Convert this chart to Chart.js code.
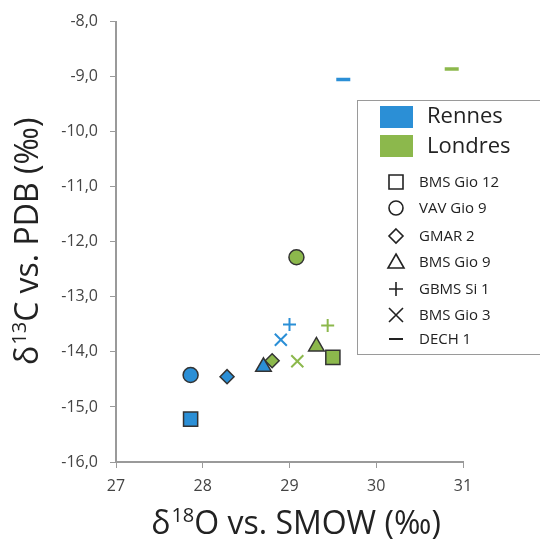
<!DOCTYPE html>
<html>
<head>
<meta charset="utf-8">
<script src="https://cdn.jsdelivr.net/npm/chart.js@4/dist/chart.umd.min.js"></script>
<style>
html,body{margin:0;padding:0;background:#fff;}
#wrap{width:540px;height:540px;}
</style>
</head>
<body>
<div id="wrap"><canvas id="grafico"></canvas></div>
<script>
// echantillons (forme du point)
const echantillons = ["BMS Gio 12", "VAV Gio 9", "GMAR 2", "BMS Gio 9", "GBMS Si 1", "BMS Gio 3", "DECH 1"];
const formes = ["rect", "circle", "rectRot", "triangle", "cross", "crossRot", "line"];
const tailles = [10, 7.5, 7, 9, 6.5, 8.5, 7];

// villes (couleur)
const villes = ["Rennes", "Londres"];
const couleurs = ["#2b8fd6", "#8cb84c"];

// d18O / d13C par echantillon
const rennesO = [27.86, 27.86, 28.28, 28.70, 29.00, 28.90, 29.62];
const rennesC = [-15.22, -14.42, -14.45, -14.27, -13.50, -13.78, -9.05];
const londresO = [29.50, 29.08, 28.80, 29.31, 29.44, 29.09, 30.87];
const londresC = [-14.10, -12.28, -14.16, -13.90, -13.52, -14.17, -8.86];

const ticksX = [27, 28, 29, 30, 31];
const ticksY = [-16, -15, -14, -13, -12, -11, -10, -9, -8];

// titres : [debut, exposant, suite]
const titreX = ["δ", "18", "O vs. SMOW (‰)"];
const titreY = ["δ", "13", "C vs. PDB (‰)"];

const police = "'Open Sans', 'DejaVu Sans', sans-serif";
const gris = "#9a9a9a";

function serie(nom, xs, ys, coul) {
    const ouvert = f => f == "cross" || f == "crossRot" || f == "line";
    return {
        label: nom,
        data: xs.map((x, i) => ({x: x, y: ys[i]})),
        pointStyle: formes,
        pointRadius: tailles,
        pointHoverRadius: tailles,
        backgroundColor: coul,
        pointBackgroundColor: coul,
        pointBorderColor: formes.map(f => ouvert(f) ? coul : "#333333"),
        pointBorderWidth: formes.map(f => f == "line" ? 3.5 : (ouvert(f) ? 2 : 1.5)),
        showLine: false
    };
}

// titre avec exposant, centre en (0,0)
function titreExposant(ctx, parts, taille) {
    const petit = Math.round(taille * 0.62);
    ctx.font = taille + "px " + police;
    const w0 = ctx.measureText(parts[0]).width;
    const w2 = ctx.measureText(parts[2]).width;
    ctx.font = petit + "px " + police;
    const w1 = ctx.measureText(parts[1]).width;
    let x = -(w0 + w1 + w2) / 2;
    ctx.textAlign = "left";
    ctx.textBaseline = "alphabetic";
    ctx.fillStyle = "#222";
    ctx.font = taille + "px " + police;
    ctx.fillText(parts[0], x, taille * 0.36);
    x += w0;
    ctx.font = petit + "px " + police;
    ctx.fillText(parts[1], x + 1, 0);
    x += w1 + 1;
    ctx.font = taille + "px " + police;
    ctx.fillText(parts[2], x, taille * 0.36);
}

const titres = {
    id: "titres",
    afterDraw(chart) {
        const ctx = chart.ctx;
        const a = chart.chartArea;
        ctx.save();
        ctx.translate((a.left + a.right) / 2 + 6, 522);
        titreExposant(ctx, titreX, 32);
        ctx.restore();
        ctx.save();
        ctx.translate(26, (a.top + a.bottom) / 2);
        ctx.rotate(-Math.PI / 2);
        titreExposant(ctx, titreY, 32);
        ctx.restore();
    }
};

// legende dessinee dans le graphique
const legende = {
    id: "legende",
    afterDraw(chart) {
        const ctx = chart.ctx;
        ctx.save();
        ctx.fillStyle = "#fff";
        ctx.fillRect(357, 100, 200, 254);
        ctx.strokeStyle = gris;
        ctx.lineWidth = 1;
        ctx.strokeRect(357.5, 100.5, 200, 254);

        ctx.textBaseline = "middle";
        ctx.textAlign = "left";
        villes.forEach((v, i) => {
            ctx.fillStyle = couleurs[i];
            ctx.fillRect(380, 106 + i * 29, 33, 22);
            ctx.fillStyle = "#222";
            ctx.font = "22px " + police;
            ctx.fillText(v, 427, 117 + i * 30);
        });
        const pasY = [182, 208, 236, 262, 289, 315, 339];
        echantillons.forEach((e, i) => {
            const y = pasY[i];
            const f = formes[i];
            ctx.strokeStyle = "#222";
            ctx.fillStyle = "#222";
            ctx.lineWidth = f == "line" ? 2 : 1.6;
            ctx.beginPath();
            if (f == "rect") { ctx.rect(389, y - 7, 14, 14); }
            else if (f == "circle") { ctx.arc(396, y, 7, 0, Math.PI * 2); }
            else if (f == "rectRot") { ctx.moveTo(396, y - 7); ctx.lineTo(403, y); ctx.lineTo(396, y + 7); ctx.lineTo(389, y); ctx.closePath(); }
            else if (f == "triangle") { ctx.moveTo(396, y - 8); ctx.lineTo(404, y + 6); ctx.lineTo(388, y + 6); ctx.closePath(); }
            else if (f == "cross") { ctx.moveTo(389, y); ctx.lineTo(403, y); ctx.moveTo(396, y - 7); ctx.lineTo(396, y + 7); }
            else if (f == "crossRot") { ctx.moveTo(389, y - 7); ctx.lineTo(403, y + 7); ctx.moveTo(403, y - 7); ctx.lineTo(389, y + 7); }
            else { ctx.moveTo(389, y); ctx.lineTo(403, y); }
            ctx.stroke();
            ctx.font = "15px " + police;
            ctx.fillText(e, 419, y + 1);
        });
        ctx.restore();
    }
};

let grafico = new Chart(document.getElementById("grafico"), {
    type: "scatter",
    data: {
        datasets: [
            serie(villes[0], rennesO, rennesC, couleurs[0]),
            serie(villes[1], londresO, londresC, couleurs[1])
        ]
    },
    options: {
        responsive: true,
        maintainAspectRatio: false,
        animation: false,
        layout: {padding: {left: 0, right: 77, top: 19, bottom: 0}},
        plugins: {legend: {display: false}, tooltip: {enabled: false}},
        scales: {
            x: {
                type: "linear",
                min: 27, max: 31,
                afterBuildTicks: ax => { ax.ticks = ticksX.map(v => ({value: v})); },
                afterFit: ax => { ax.height = 78; },
                grid: {drawOnChartArea: false, drawTicks: true, tickLength: 6, color: gris},
                border: {display: true, color: gris, width: 2},
                ticks: {color: "#444", font: {family: police, size: 16}, padding: 9}
            },
            y: {
                type: "linear",
                min: -16, max: -8,
                afterBuildTicks: ax => { ax.ticks = ticksY.map(v => ({value: v})); },
                afterFit: ax => { ax.width = 116; },
                grid: {drawOnChartArea: false, drawTicks: true, tickLength: 6, color: gris},
                border: {display: true, color: gris, width: 2},
                ticks: {color: "#444", font: {family: police, size: 16}, padding: 12,
                    callback: v => v.toFixed(1).replace(".", ",")}
            }
        }
    },
    plugins: [legende, titres]
});
</script>
</body>
</html>
